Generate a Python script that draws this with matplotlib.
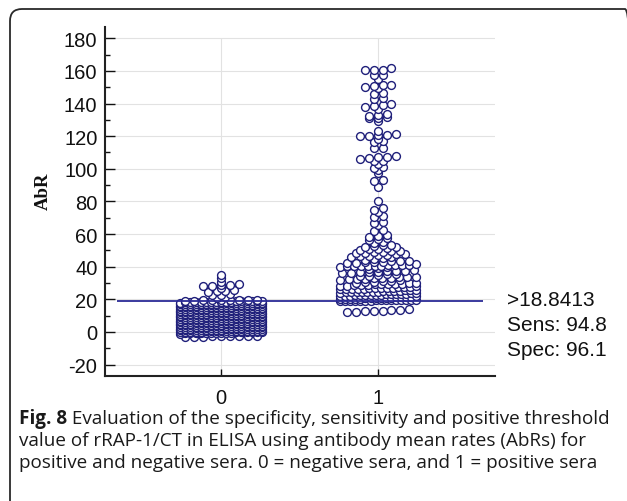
#!/usr/bin/env python
"""Dot plot of AbR values for negative (0) and positive (1) sera with cut-off line."""

import matplotlib
matplotlib.use("Agg")
import matplotlib.pyplot as plt  # noqa: E402
import numpy as np  # noqa: E402
from matplotlib.patches import FancyBboxPatch  # noqa: E402

plt.rcParams["axes.unicode_minus"] = False

# ── data ──
categories = [0, 1]
neg_values = [
    -3.0, -2.9, -2.8, -2.7, -2.6, -2.5, -2.4, -2.3, -2.2,
    -1.0, -0.9, -0.9, -0.8, -0.8, -0.7, -0.6, -0.6, -0.5, -0.5, -0.4, -0.3, -0.3, -0.2, -0.2, -0.1, -0.1,
    0.0, 0.1, 0.1, 0.2, 0.2, 0.3, 0.4, 0.4, 0.5, 0.5, 0.6, 0.7, 0.7, 0.8, 0.8, 0.9, 0.9,
    1.0, 1.1, 1.1, 1.2, 1.3, 1.3, 1.4, 1.4, 1.5, 1.6, 1.6, 1.7, 1.7, 1.8, 1.8, 1.9, 1.9,
    2.0, 2.0, 2.1, 2.2, 2.2, 2.3, 2.4, 2.4, 2.5, 2.5, 2.6, 2.7, 2.7, 2.8, 2.9, 2.9, 2.9,
    3.0, 3.1, 3.1, 3.2, 3.2, 3.3, 3.4, 3.4, 3.5, 3.5, 3.6, 3.7, 3.7, 3.8, 3.8, 3.9, 3.9,
    4.0, 4.1, 4.1, 4.2, 4.3, 4.3, 4.4, 4.4, 4.5, 4.6, 4.6, 4.7, 4.7, 4.8, 4.8, 4.9, 4.9,
    5.0, 5.0, 5.1, 5.2, 5.2, 5.3, 5.4, 5.4, 5.5, 5.5, 5.6, 5.7, 5.7, 5.8, 5.9, 5.9, 5.9,
    6.0, 6.1, 6.1, 6.2, 6.2, 6.3, 6.4, 6.4, 6.5, 6.5, 6.6, 6.7, 6.7, 6.8, 6.8, 6.9, 6.9,
    7.0, 7.1, 7.1, 7.2, 7.3, 7.3, 7.4, 7.4, 7.5, 7.6, 7.6, 7.7, 7.7, 7.8, 7.8, 7.9, 7.9,
    8.0, 8.0, 8.1, 8.2, 8.2, 8.3, 8.4, 8.4, 8.5, 8.5, 8.6, 8.7, 8.7, 8.8, 8.9, 8.9, 8.9,
    9.0, 9.1, 9.1, 9.2, 9.2, 9.3, 9.4, 9.4, 9.5, 9.5, 9.6, 9.7, 9.7, 9.8, 9.8, 9.9, 9.9,
    10.0, 10.1, 10.1, 10.2, 10.3, 10.3, 10.4, 10.4, 10.5, 10.6, 10.6, 10.7, 10.7, 10.8, 10.8, 10.9, 10.9,
    11.0, 11.0, 11.1, 11.2, 11.2, 11.3, 11.4, 11.4, 11.5, 11.5, 11.6, 11.7, 11.7, 11.8, 11.9, 11.9, 11.9,
    12.0, 12.1, 12.1, 12.2, 12.2, 12.3, 12.4, 12.4, 12.5, 12.5, 12.6, 12.7, 12.7, 12.8, 12.8, 12.9, 12.9,
    13.0, 13.1, 13.1, 13.2, 13.3, 13.3, 13.4, 13.4, 13.5, 13.6, 13.6, 13.7, 13.7, 13.8, 13.8, 13.9, 13.9,
    14.0, 14.0, 14.1, 14.2, 14.2, 14.3, 14.4, 14.4, 14.5, 14.5, 14.6, 14.7, 14.7, 14.8, 14.9, 14.9, 14.9,
    15.0, 15.1, 15.1, 15.2, 15.2, 15.3, 15.4, 15.4, 15.5, 15.5, 15.6, 15.7, 15.7, 15.8, 15.8, 15.9, 15.9,
    16.0, 16.1, 16.1, 16.2, 16.3, 16.3, 16.4, 16.4, 16.5, 16.6, 16.6, 16.7, 16.7, 16.8, 16.8, 16.9, 16.9,
    17.0, 17.0, 17.1, 17.2, 17.2, 17.3, 17.4, 17.4, 17.5, 17.5, 17.6, 17.7, 17.7, 17.8, 17.9, 17.9, 17.9,
    18.0, 18.1, 18.1, 18.2, 18.2, 18.3, 18.4, 18.4, 18.5, 18.5, 18.6, 18.7, 18.7, 18.8, 18.8, 18.9, 18.9,
    19.1, 19.2, 19.3, 19.4, 19.5, 19.6, 19.7, 19.8, 19.9,
    20.6, 21.2, 22.4, 22.8, 23.3, 24.6, 24.9, 25.2, 25.5, 26.8,
    28.0, 28.3, 28.6, 28.9, 29.3, 30.9, 33.1, 34.9,
]
pos_values = [
    12.2, 12.4, 12.6, 12.9, 13.1, 13.4, 13.6, 13.9,
    18.9, 18.95, 19.0, 19.05, 19.1, 19.2, 19.25, 19.3, 19.4, 19.45, 19.5, 19.6, 19.7, 19.75, 19.8, 19.9,
    20.1, 20.2, 20.3, 20.4, 20.5, 20.6, 20.7, 20.8, 20.9, 21.0, 21.1, 21.2, 21.4, 21.5, 21.7, 21.9,
    22.1, 22.2, 22.3, 22.4, 22.5, 22.6, 22.7, 22.8, 22.9, 23.0, 23.1, 23.2, 23.4, 23.5, 23.7, 23.9,
    24.1, 24.2, 24.3, 24.4, 24.5, 24.6, 24.7, 24.8, 24.9, 25.0, 25.2, 25.4, 25.5, 25.7, 25.9,
    26.1, 26.2, 26.4, 26.5, 26.6, 26.7, 26.8, 26.9, 27.0, 27.2, 27.4, 27.6, 27.8, 27.9,
    28.2, 28.4, 28.6, 28.8, 29.0, 29.1, 29.2, 29.3, 29.5, 29.6, 29.8, 29.9,
    30.3, 30.6, 30.9, 31.2, 31.5, 31.8,
    32.1, 32.3, 32.5, 32.7, 32.9, 33.0, 33.2, 33.4, 33.6, 33.8,
    34.2, 34.6, 35.0, 35.4, 35.8,
    36.1, 36.3, 36.5, 36.7, 36.9, 37.1, 37.3, 37.5, 37.8,
    38.4, 39.0, 39.6,
    40.1, 40.2, 40.3, 40.4, 40.5, 40.6, 40.7, 40.8, 40.9, 41.0, 41.2, 41.4,
    42.2, 42.4, 42.6, 42.8, 43.0, 43.2, 43.5, 43.8,
    44.3, 44.8, 45.2, 45.7,
    46.1, 46.4, 46.7, 47.0, 47.3, 47.6, 47.9,
    48.2, 48.5, 48.8, 49.1, 49.4, 49.7,
    50.3, 50.7, 51.0, 51.4, 51.8,
    52.3, 52.7, 53.1, 53.6,
    54.5, 55.2, 56.4, 56.9, 57.5, 58.2, 58.8, 59.4,
    62.1, 62.8, 65.3, 66.8, 67.5, 70.4, 71.2, 73.4, 74.6, 75.8, 80.0,
    88.6, 92.7, 92.9, 97.4, 99.4, 100.7, 101.2, 102.7,
    104.5, 104.9, 106.0, 106.4, 107.0, 107.3, 107.8,
    112.5, 112.9, 116.3, 116.8, 118.2,
    120.0, 120.3, 120.6, 121.0, 121.4, 123.0, 129.0,
    131.0, 131.4, 131.8, 132.4, 133.0, 133.4,
    136.5, 138.1, 138.5, 139.0, 139.7, 143.0, 143.3, 146.0, 146.5, 149.7,
    150.2, 150.5, 151.3, 151.4, 155.0, 157.2, 157.5,
    160.4, 160.6, 160.8, 161.6,
]
cutoff = 18.8413
sens = 94.8
spec = 96.1
yticks = list(range(-20, 181, 20))

caption_bold = "Fig. 8"
caption_lines = [
    " Evaluation of the specificity, sensitivity and positive threshold",
    "value of rRAP-1/CT in ELISA using antibody mean rates (AbRs) for",
    "positive and negative sera. 0 = negative sera, and 1 = positive sera",
]

DOT = "#1f1f7a"
LINE = "#2b2b96"


def row_offsets(values, bin_w=2.0, dense_top=None, step=0.0567, half_w=0.25):
    """Spread points of the same value bin side by side (sorted left to right).
    Below dense_top the bins are half as tall (packed block)."""
    vals = np.asarray(values, dtype=float)
    keys = np.floor(vals / bin_w)
    if dense_top is not None:
        dense = vals < dense_top
        keys = np.where(dense, np.floor(vals / (bin_w / 2)), 10000 + keys)
    xs = np.zeros(len(vals))
    for k in np.unique(keys):
        idx = np.where(keys == k)[0]
        idx = idx[np.argsort(vals[idx], kind="stable")]
        n = len(idx)
        s = step if n < 2 else min(step, 2 * half_w / (n - 1))
        xs[idx] = (np.arange(n) - (n - 1) / 2) * s
    return xs


def main() -> None:
    fig = plt.figure(figsize=(6.27, 5.02), dpi=100)
    ax = fig.add_axes([0.1675, 0.2496, 0.622, 0.6946])

    layouts = [dict(half_w=0.26, dense_top=20.0), dict(half_w=0.24)]
    for cat, vals, kw in zip(categories, [neg_values, pos_values], layouts):
        v = np.asarray(vals, dtype=float)
        x = cat + row_offsets(v, **kw)
        order = np.argsort(v, kind="stable")
        ax.scatter(x[order], v[order], s=32, facecolor="white", edgecolor=DOT,
                   linewidth=1.0, zorder=3)

    ax.hlines(cutoff, -0.66, 1.67, color=LINE, lw=1.3, zorder=4)

    ax.set_xlim(-0.739, 1.745)
    ax.set_ylim(-26.8, 186.9)
    ax.set_xticks(categories)
    ax.set_yticks(yticks)
    ax.set_yticks(list(range(-10, 181, 20)), minor=True)
    ax.set_xticklabels([str(c) for c in categories])

    # grid: horizontal at major y, vertical at the categories up to 180
    for yv in yticks:
        ax.axhline(yv, color="#e2e2e2", lw=0.8, zorder=0)
    ax.vlines(categories, -26.8, 180, color="#e2e2e2", lw=0.8, zorder=0)

    for side in ("top", "right"):
        ax.spines[side].set_visible(False)
    for side in ("left", "bottom"):
        ax.spines[side].set_linewidth(1.5)
        ax.spines[side].set_color("#222222")

    ax.tick_params(axis="y", which="major", direction="in", length=7.2, width=1.0,
                   pad=5.5, labelsize=14.5, colors="#111111")
    ax.tick_params(axis="y", which="minor", direction="in", length=3.6, width=1.0,
                   colors="#111111")
    ax.tick_params(axis="x", which="major", direction="in", length=5, width=1.0,
                   pad=9, labelsize=14.5, colors="#111111")
    for lab in ax.get_xticklabels() + ax.get_yticklabels():
        lab.set_fontfamily("Liberation Sans")

    fig.text(43 / 627, 1 - 191 / 502, "AbR", rotation=90, ha="center", va="center",
             fontfamily="Liberation Serif", fontweight="bold", fontsize=13.5,
             color="#111111")

    # cut-off annotation at the right of the axes
    info = [f">{cutoff}", f"Sens: {sens}", f"Spec: {spec}"]
    for i, line in enumerate(info):
        fig.text(507 / 627, 1 - (300.7 + 25 * i) / 502, line, ha="left", va="center",
                 fontsize=15, fontfamily="Liberation Sans", color="#111111")

    # caption below the chart
    x0 = 19 / 627
    fs = 13.6
    base = [1 - 424 / 502, 1 - 446 / 502, 1 - 468 / 502]
    tb = fig.text(x0, base[0], caption_bold, ha="left", va="baseline", fontsize=fs,
                  fontfamily="Open Sans", fontweight="bold", color="#1a1a1a")
    fig.canvas.draw()
    bb = tb.get_window_extent()
    fig.text(bb.x1 / fig.bbox.width, base[0], caption_lines[0], ha="left", va="baseline",
             fontsize=fs, fontfamily="Open Sans", color="#1a1a1a")
    for line, yb in zip(caption_lines[1:], base[1:]):
        fig.text(x0, yb, line, ha="left", va="baseline", fontsize=fs,
                 fontfamily="Open Sans", color="#1a1a1a")

    # rounded frame around figure + caption (right and bottom edges run off the page)
    frame = FancyBboxPatch((0.10, -0.3), 6.27, 5.22,
                           boxstyle="round,pad=0,rounding_size=0.12",
                           transform=fig.dpi_scale_trans, facecolor="none",
                           edgecolor="#2a2a2a", lw=1.3, clip_on=False)
    fig.add_artist(frame)

    fig.savefig("out.png", dpi=100)
    plt.close(fig)


if __name__ == "__main__":
    main()
